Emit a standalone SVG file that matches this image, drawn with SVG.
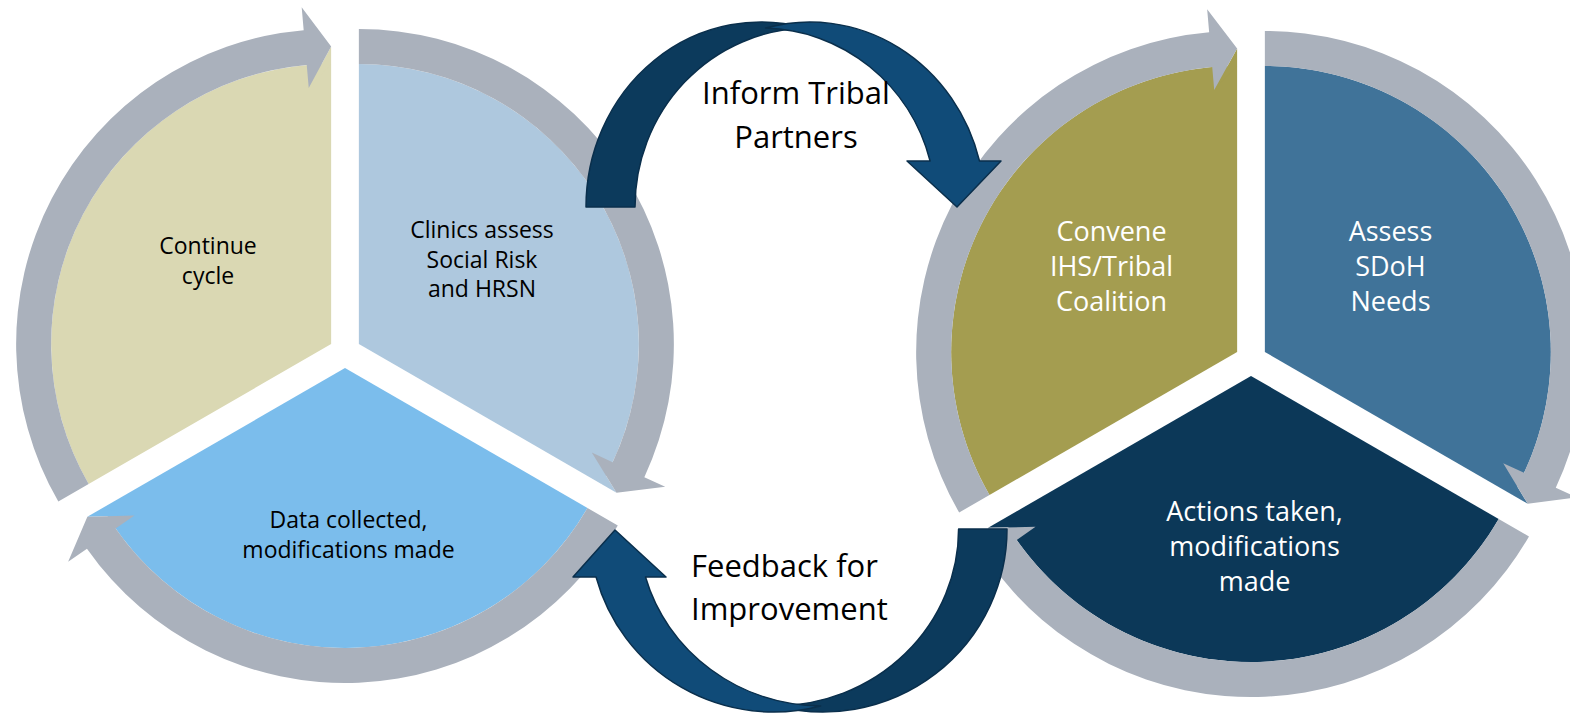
<svg xmlns="http://www.w3.org/2000/svg" width="1570" height="716" viewBox="0 0 1570 716">
  <style>
    .ring { fill: #AAB1BC; }
    .t { font-family: "Open Sans", "Noto Sans", "Liberation Sans", sans-serif; text-anchor: middle; }
    .dark { fill: #000000; font-size: 23px; }
    .light { fill: #FFFFFF; font-size: 27px; }
    .big { fill: #000000; font-size: 31px; }
    .barDark { fill: #0C3A5C; stroke: #0A2F4C; stroke-width: 1.5; stroke-linejoin: round; }
    .barLight { fill: #104B78; stroke: #0A2F4C; stroke-width: 1.5; stroke-linejoin: round; }
  </style>
  <rect width="1570" height="716" fill="#FFFFFF"/>

  <g id="nodes">
    <!-- Left cycle -->
    <g id="node-continue" fill="#DAD8B3">
      <path d="M331.14,344 L88.65,484 A280,280 0 0 1 331.14,64 Z"/>
      <path d="M331.14,64 L331.14,46.5 L308.74,87.98 Z"/>
      <text class="t dark" x="208" y="254">Continue</text>
      <text class="t dark" x="208" y="283.5">cycle</text>
    </g>
    <g id="node-clinics" fill="#AEC8DE">
      <path d="M358.86,344 L358.86,64 A280,280 0 0 1 601.35,484 Z"/>
      <path d="M601.35,484 L616.5,492.75 L591.78,452.61 Z"/>
      <text class="t dark" x="482" y="238">Clinics assess</text>
      <text class="t dark" x="482" y="267.5">Social Risk</text>
      <text class="t dark" x="482" y="297">and HRSN</text>
    </g>
    <g id="node-data" fill="#7BBDEC">
      <path d="M345,368 L587.49,508 A280,280 0 0 1 102.51,508 Z"/>
      <path d="M102.51,508 L87.36,516.75 L134.48,515.41 Z"/>
      <text class="t dark" x="348.5" y="528">Data collected,</text>
      <text class="t dark" x="348.5" y="558">modifications made</text>
    </g>
    <!-- Right cycle -->
    <g id="node-convene" fill="#A49D50">
      <path d="M1237.14,352 L989.46,495 A286,286 0 0 1 1237.14,66 Z"/>
      <path d="M1237.14,66 L1237.14,48.5 L1214.22,90 Z"/>
      <text class="t light" x="1111.5" y="241">Convene</text>
      <text class="t light" x="1111.5" y="276">IHS/Tribal</text>
      <text class="t light" x="1111.5" y="310.5">Coalition</text>
    </g>
    <g id="node-assess" fill="#407399">
      <path d="M1264.86,352 L1264.86,66 A286,286 0 0 1 1512.54,495 Z"/>
      <path d="M1512.54,495 L1527.7,503.75 L1503.22,463.15 Z"/>
      <text class="t light" x="1390.5" y="241">Assess</text>
      <text class="t light" x="1390.5" y="276">SDoH</text>
      <text class="t light" x="1390.5" y="311">Needs</text>
    </g>
    <g id="node-actions" fill="#0C3858">
      <path d="M1251,376 L1498.68,519 A286,286 0 0 1 1003.32,519 Z"/>
      <path d="M1003.32,519 L988.16,527.75 L1035.56,526.85 Z"/>
      <text class="t light" x="1254.5" y="521">Actions taken,</text>
      <text class="t light" x="1254.5" y="556">modifications</text>
      <text class="t light" x="1254.5" y="590.5">made</text>
    </g>
  </g>

  <g id="connectors">
    <!-- Left cycle circular arrows -->
    <path class="ring" d="M58.34,501.5 A315,315 0 0 1 303.68,30.2 L301.68,7.29 L331.14,46.5 L308.74,87.98 L306.74,65.07 A280,280 0 0 0 88.65,484 Z"/>
    <path class="ring" d="M358.86,29 A315,315 0 0 1 644.35,477.13 L665.19,486.85 L616.5,492.75 L591.78,452.61 L612.63,462.33 A280,280 0 0 0 358.86,64 Z"/>
    <path class="ring" d="M617.8,525.5 A315,315 0 0 1 86.97,548.68 L68.13,561.87 L87.36,516.75 L134.48,515.41 L115.64,528.6 A280,280 0 0 0 587.49,508 Z"/>
    <!-- Right cycle circular arrows -->
    <path class="ring" d="M959.15,512.5 A321,321 0 0 1 1209.16,32.22 L1207.16,9.31 L1237.14,48.5 L1214.22,90 L1212.21,67.09 A286,286 0 0 0 989.46,495 Z"/>
    <path class="ring" d="M1264.86,31 A321,321 0 0 1 1555.78,487.66 L1576.63,497.38 L1527.7,503.75 L1503.22,463.15 L1524.06,472.87 A286,286 0 0 0 1264.86,66 Z"/>
    <path class="ring" d="M1528.99,536.5 A321,321 0 0 1 988.05,560.12 L969.21,573.31 L988.16,527.75 L1035.56,526.85 L1016.72,540.04 A286,286 0 0 0 1498.68,519 Z"/>

    <!-- Inform Tribal Partners arrow -->
    <g id="arrow-inform">
      <path class="barDark" d="M586,207 A175,185 0 0 1 805.4,28.06 A175,179 0 0 0 635,207 Z"/>
      <path class="barLight" d="M765.6,28.06 A175,185 0 0 1 979.51,161 L1001,161 L957,207 L907,161 L930.12,161 A175,179 0 0 0 765.6,28.06 Z"/>
      <text class="t big" x="796" y="104">Inform Tribal</text>
      <text class="t big" x="796" y="148">Partners</text>
    </g>

    <!-- Feedback for Improvement arrow -->
    <g id="arrow-feedback">
      <path class="barDark" d="M1007,529 A184.2,183 0 0 1 776,706 A184.2,177 0 0 0 958.6,529 Z"/>
      <path class="barLight" d="M820.6,706 A184.2,183 0 0 1 596.05,577 L573,577 L615,530 L666,577 L645.5,577 A184.2,177 0 0 0 820.6,706 Z"/>
      <text class="t big" x="691" y="577" style="text-anchor:start">Feedback for</text>
      <text class="t big" x="691" y="620" style="text-anchor:start">Improvement</text>
    </g>
  </g>
</svg>
